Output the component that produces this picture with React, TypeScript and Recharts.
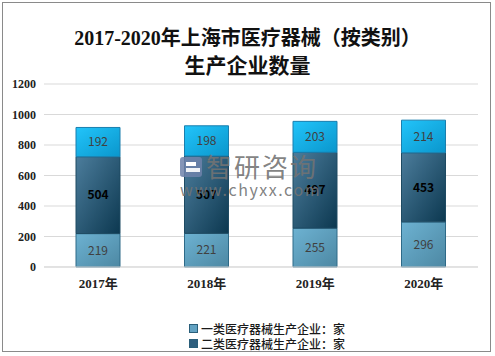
import React from 'react';
import { BarChart, Bar, XAxis, YAxis, CartesianGrid, Legend, LabelList } from 'recharts';

const categories = ['2017年', '2018年', '2019年', '2020年'];
const class1 = [219, 221, 255, 296];
const class2 = [504, 507, 497, 453];
const class3 = [192, 198, 203, 214];
const yTicks = [0, 200, 400, 600, 800, 1000, 1200];

const data = categories.map((c, i) => ({ name: c, c1: class1[i], c2: class2[i], c3: class3[i] }));

const serif = '"Liberation Serif", "DejaVu Serif", "Noto Sans CJK SC", serif';
const sans = '"Noto Sans CJK SC", "Noto Sans", sans-serif';

const LegendContent = () => (
  <div style={{ fontFamily: sans, fontSize: 12, color: '#1a1a1a', lineHeight: '15px', fontWeight: 500 }}>
    {[
      { label: '一类医疗器械生产企业：家', color: '#62a2c2' },
      { label: '二类医疗器械生产企业：家', color: '#2f5f7e' },
    ].map((it) => (
      <div key={it.label} style={{ display: 'flex', alignItems: 'center' }}>
        <span style={{ display: 'inline-block', width: 7, height: 7, background: it.color, border: '1px solid #2a5f7a', marginRight: 3 }} />
        <span>{it.label}</span>
      </div>
    ))}
  </div>
);

export default function App() {
  return (
    <div style={{ position: 'absolute', left: 0, top: 0, width: 495, height: 356, background: '#fff' }}>
      <div style={{ position: 'absolute', left: 2, top: 2, width: 489, height: 350, border: '1px solid #8a8a8a', boxSizing: 'border-box' }} />
      <div style={{ position: 'absolute', left: 0, top: 24, width: 495, textAlign: 'center', fontFamily: serif, fontWeight: 'bold', fontSize: 20, lineHeight: '28px', color: '#111' }}>
        <div>2017-2020年上海市医疗器械（按类别）</div>
        <div style={{ fontSize: 21 }}>生产企业数量</div>
      </div>
      <BarChart width={495} height={356} data={data} margin={{ top: 84, right: 17, bottom: 59, left: 0 }} barSize={44}>
        <defs>
          <linearGradient id="g1" x1="0" y1="0" x2="1" y2="1">
            <stop offset="0%" stopColor="#6db2d2" />
            <stop offset="100%" stopColor="#4d88a3" />
          </linearGradient>
          <linearGradient id="g2" x1="0" y1="0" x2="1" y2="1">
            <stop offset="0%" stopColor="#4c7d9c" />
            <stop offset="100%" stopColor="#0c3850" />
          </linearGradient>
          <linearGradient id="g3" x1="0" y1="0" x2="1" y2="1">
            <stop offset="0%" stopColor="#22c4fa" />
            <stop offset="100%" stopColor="#0a96cc" />
          </linearGradient>
        </defs>
        <CartesianGrid vertical={false} stroke="#d9d9d9" />
        <XAxis dataKey="name" axisLine={{ stroke: '#d9d9d9' }} tickLine={false} height={30}
          tick={{ fontFamily: serif, fontWeight: 'bold', fontSize: 13, fill: '#222' }} tickMargin={6} />
        <YAxis domain={[0, 1200]} ticks={yTicks} width={44} axisLine={false} tickLine={false} tickSize={0} tickMargin={8}
          tick={{ fontFamily: serif, fontWeight: 'bold', fontSize: 12, fill: '#222' }} interval={0} />
        <Legend layout="vertical" verticalAlign="middle" align="center" content={<LegendContent />}
          wrapperStyle={{ position: 'absolute', left: 189, top: 321, width: 200 }} />
        <Bar dataKey="c1" stackId="a" fill="url(#g1)" stroke="#2e6a88" strokeWidth={1} isAnimationActive={false}>
          <LabelList dataKey="c1" position="center" style={{ fontFamily: sans, fontSize: 12, fill: '#404040' }} />
        </Bar>
        <Bar dataKey="c2" stackId="a" fill="url(#g2)" stroke="#1e4a62" strokeWidth={1} isAnimationActive={false}>
          <LabelList dataKey="c2" position="center" style={{ fontFamily: sans, fontSize: 12, fontWeight: 'bold', fill: '#000' }} />
        </Bar>
        <Bar dataKey="c3" stackId="a" fill="url(#g3)" stroke="#1a7fae" strokeWidth={1} isAnimationActive={false}>
          <LabelList dataKey="c3" position="center" style={{ fontFamily: sans, fontSize: 12, fill: '#404040' }} />
        </Bar>
      </BarChart>
      <div style={{ position: 'absolute', left: 180, top: 153, width: 140, height: 46, pointerEvents: 'none' }}>
        <div style={{ position: 'absolute', left: 0, top: 4, width: 22, height: 20, background: 'rgba(110,130,170,0.85)', borderRadius: 3 }} />
        <div style={{ position: 'absolute', left: 6, top: 9, width: 10, height: 4, background: '#fff' }} />
        <div style={{ position: 'absolute', left: 6, top: 15, width: 14, height: 4, background: 'rgba(255,255,255,0.9)' }} />
        <div style={{ position: 'absolute', left: 26, top: -2, width: 116, fontFamily: sans, fontSize: 26, lineHeight: '30px', color: 'rgba(115,115,115,0.9)', letterSpacing: 2, whiteSpace: 'nowrap' }}>智研咨询</div>
        <div style={{ position: 'absolute', left: 0, top: 27, width: 150, fontFamily: sans, fontSize: 16, lineHeight: '18px', color: 'rgba(115,115,115,0.9)', letterSpacing: 1.6, whiteSpace: 'nowrap' }}>www.chyxx.com</div>
      </div>
    </div>
  );
}
